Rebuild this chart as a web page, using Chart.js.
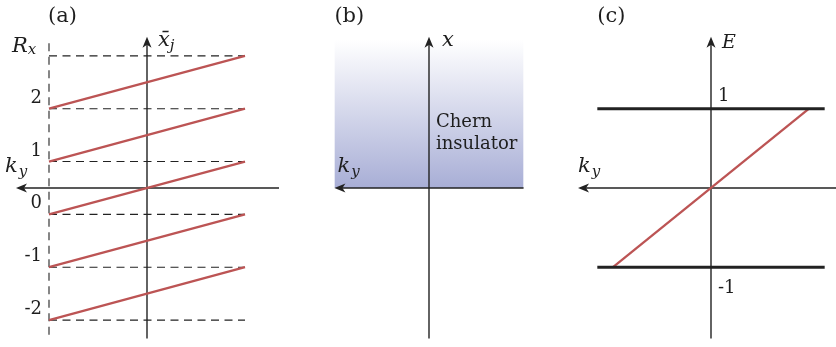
<!DOCTYPE html>
<html><head><meta charset="utf-8">
<script src="https://cdn.jsdelivr.net/npm/chart.js@4"></script>
<style>
html,body{margin:0;padding:0;background:#fff;}
#fig{position:relative;width:836px;height:347px;overflow:hidden;background:#fff;}
#fig canvas{position:absolute;top:0;}
</style></head><body>
<div id="fig">
<canvas id="pa" width="294" height="347" style="left:0px"></canvas>
<canvas id="pb" width="294" height="347" style="left:282px"></canvas>
<canvas id="pc" width="294" height="347" style="left:564px"></canvas>
</div>
<script>
// (a) Wannier centres: one branch per cell R_x, each shifts by one cell across the zone
const kyRange = [-1, 1];
const cellLabels = ['2', '1', '0', '-1', '-2'];
const centreStart = [1.5, 0.5, -0.5, -1.5, -2.5];
const centreEnd = [2.5, 1.5, 0.5, -0.5, -1.5];
const cellEdges = [2.5, 1.5, 0.5, -0.5, -1.5, -2.5];
const zoneEdge = [2.74, -2.84];
// (b) Chern insulator filling the half plane x > 0
const slabKy = [-0.965, 0.965];
const slabTop = 2.8;
// (c) chiral edge mode crossing the gap between the bands E = ±1
const bandEnergy = [1, -1];
const bandLabels = ['1', '-1'];
const bandKy = [-1.16, 1.16];
const edgeKy = [-1, 1];
const edgeE = [-1, 1];

const INK = '#222222';
const RED = 'rgb(188,84,84)';
const SERIF = '"DejaVu Serif", serif';
const DASH = [8, 5.5];

// layering: lower order is drawn on top
function seg(x0, y0, x1, y1, extra) {
  return Object.assign({
    data: [{x: x0, y: y0}, {x: x1, y: y1}],
    showLine: true, pointRadius: 0, borderColor: INK, borderWidth: 1.4, fill: false, order: 2
  }, extra || {});
}

// arrowheads and text labels placed from the scales
const decor = {
  id: 'decor',
  afterDraw(chart, args, opts) {
    const ctx = chart.ctx, xs = chart.scales.x, ys = chart.scales.y;
    ctx.save();
    (opts.arrows || []).forEach(a => {
      const px = xs.getPixelForValue(a.x), py = ys.getPixelForValue(a.y);
      const ang = a.dir === 'left' ? Math.PI : -Math.PI / 2;
      ctx.save();
      ctx.translate(px, py); ctx.rotate(ang);
      ctx.beginPath();
      ctx.moveTo(0, 0); ctx.lineTo(-11, 4.5); ctx.lineTo(-8, 0); ctx.lineTo(-11, -4.5);
      ctx.closePath();
      ctx.fillStyle = INK; ctx.fill();
      ctx.restore();
    });
    (opts.texts || []).forEach(t => {
      const px = xs.getPixelForValue(t.x) + (t.dx || 0);
      const py = ys.getPixelForValue(t.y) + (t.dy || 0);
      ctx.fillStyle = '#1e1e1e';
      ctx.font = t.font;
      ctx.textAlign = t.align || 'left';
      ctx.textBaseline = 'alphabetic';
      ctx.fillText(t.text, px, py);
      if (t.sub) {
        const w = ctx.measureText(t.text).width;
        ctx.font = t.subFont;
        ctx.textAlign = 'left';
        ctx.fillText(t.sub, px + w + (t.subDx || 0), py + (t.subDy || 4));
      }
    });
    ctx.restore();
  }
};

function makeChart(id, datasets, yRange, decorOpts) {
  return new Chart(document.getElementById(id), {
    type: 'scatter',
    data: {datasets},
    options: {
      responsive: false, animation: false, devicePixelRatio: 1,
      layout: {padding: {top: 3, bottom: 0.5, left: 0, right: 0}},
      scales: {
        x: {type: 'linear', min: -1.5, max: 1.5, display: false},
        y: {type: 'linear', min: yRange[0], max: yRange[1], display: false}
      },
      plugins: {legend: {display: false}, tooltip: {enabled: false}, decor: decorOpts},
      elements: {line: {tension: 0}}
    },
    plugins: [decor]
  });
}

const ITAL = 'italic 21px ' + SERIF;
const SUB = 'italic 15px ' + SERIF;
const NUM = '18px ' + SERIF;
const TAG = '21px ' + SERIF;

// ---------- (a) ----------
const aSets = [];
cellEdges.forEach(v => aSets.push(seg(kyRange[0], v, kyRange[1], v, {borderWidth: 1.1, borderDash: DASH, order: 3})));
aSets.push(seg(kyRange[0], zoneEdge[0], kyRange[0], zoneEdge[1], {borderWidth: 1.1, borderDash: DASH, order: 3}));
aSets.push(seg(1.347, 0, -1.30, 0));
aSets.push(seg(0, -2.85, 0, 2.80));
centreStart.forEach((s, i) => aSets.push(seg(kyRange[0], s, kyRange[1], centreEnd[i], {borderColor: RED, borderWidth: 2.3, order: 1})));
const aTexts = [
  {x: -1, y: 3.5, dx: -1, dy: 19, text: '(a)', font: TAG},
  {x: -1, y: 2.5, dx: -37, dy: -4, text: 'R', font: ITAL, sub: 'x', subFont: SUB, subDx: 0, subDy: 2},
  {x: 0, y: 2.5, dx: 11, dy: -10, text: 'x\u0304', font: ITAL, sub: 'j', subFont: SUB, subDx: 0, subDy: 4},
  {x: -1.337, y: 0, dx: -11, dy: -16, text: 'k', font: ITAL, sub: 'y', subFont: SUB, subDx: 1, subDy: 4}
];
cellLabels.forEach((l, i) => aTexts.push({x: kyRange[0], y: centreStart[i], dx: -7, dy: -6, text: l, font: NUM, align: 'right'}));
makeChart('pa', aSets, [-3, 3.5], {
  arrows: [{x: -1.337, y: 0, dir: 'left'}, {x: 0, y: 2.86, dir: 'up'}],
  texts: aTexts
});

// ---------- (b) ----------
const bSets = [
  {
    data: [{x: slabKy[0], y: slabTop}, {x: slabKy[1], y: slabTop}],
    showLine: true, pointRadius: 0, borderWidth: 0, fill: 'origin', order: 5,
    backgroundColor: (c) => {
      const ch = c.chart;
      if (!ch.chartArea) return 'rgba(0,0,0,0)';
      const y0 = ch.scales.y.getPixelForValue(slabTop), y1 = ch.scales.y.getPixelForValue(0);
      const g = ch.ctx.createLinearGradient(0, y0, 0, y1);
      g.addColorStop(0, 'rgba(255,255,255,1)');
      g.addColorStop(1, 'rgb(168,174,214)');
      return g;
    }
  },
  seg(slabKy[1], 0, -0.93, 0),
  seg(0, -2.85, 0, 2.80)
];
makeChart('pb', bSets, [-3, 3.5], {
  arrows: [{x: slabKy[0], y: 0, dir: 'left'}, {x: 0, y: 2.86, dir: 'up'}],
  texts: [
    {x: slabKy[0], y: 3.5, dx: 0, dy: 19, text: '(b)', font: TAG},
    {x: 0, y: 2.5, dx: 13, dy: -10, text: 'x', font: ITAL},
    {x: slabKy[0], y: 0, dx: 3, dy: -16, text: 'k', font: ITAL, sub: 'y', subFont: SUB, subDx: 1, subDy: 4},
    {x: 0, y: 0, dx: 7, dy: -61, text: 'Chern', font: '18px ' + SERIF},
    {x: 0, y: 0, dx: 7, dy: -39, text: 'insulator', font: '18px ' + SERIF}
  ]
});

// ---------- (c) ----------
const cSets = [
  seg(1.45, 0, -1.32, 0),
  seg(0, -1.9, 0, 1.86)
];
bandEnergy.forEach(e => cSets.push(seg(bandKy[0], e, bandKy[1], e, {borderWidth: 3, order: 1})));
cSets.push(seg(edgeKy[0], edgeE[0], edgeKy[1], edgeE[1], {borderColor: RED, borderWidth: 2.3, order: 1}));
makeChart('pc', cSets, [-2, 7 / 3], {
  arrows: [{x: -1.357, y: 0, dir: 'left'}, {x: 0, y: 1.907, dir: 'up'}],
  texts: [
    {x: bandKy[0], y: 7 / 3, dx: 0, dy: 19, text: '(c)', font: TAG},
    {x: 0, y: 1.907, dx: 11, dy: 11, text: 'E', font: 'italic 19px ' + SERIF},
    {x: 0, y: bandEnergy[0], dx: 7, dy: -8, text: bandLabels[0], font: NUM},
    {x: 0, y: bandEnergy[1], dx: 7, dy: 26, text: bandLabels[1], font: NUM},
    {x: -1.357, y: 0, dx: 0, dy: -16, text: 'k', font: ITAL, sub: 'y', subFont: SUB, subDx: 1, subDy: 4}
  ]
});
</script>
</body></html>
